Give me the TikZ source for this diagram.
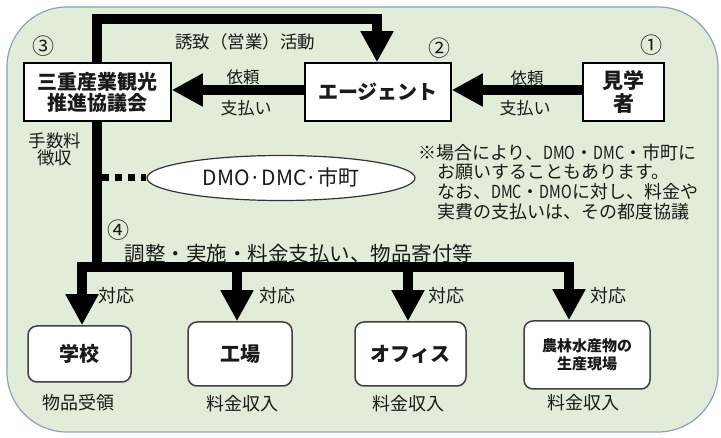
\documentclass[tikz,border=0pt]{standalone}
\usepackage{fontspec}
\setmainfont{Noto Sans CJK JP}
\usetikzlibrary{arrows.meta,shapes.geometric,calc}
\definecolor{bgfill}{HTML}{E2EDD9}
\definecolor{bgline}{HTML}{8CA3B4}
\definecolor{txt}{HTML}{1A1A1A}
\newcommand\myfs[2]{\fontsize{#1}{#2}\selectfont}
\pgfdeclarelayer{back}
\pgfdeclarelayer{mid}
\pgfsetlayers{back,mid,main}
\tikzset{
  topbox/.style={draw=black, line width=1.5pt, fill=white, inner sep=0pt, align=center, text=txt},
  botbox/.style={draw=black!75, line width=1.5pt, fill=white, rounded corners=9pt, inner sep=0pt, align=center, text=txt},
  flow/.style={line width=10pt, line join=miter, -{Triangle[width=31pt,length=31pt]}},
  bar/.style={line width=10pt},
  lbl/.style={inner sep=0pt, text=txt},
  numl/.style={inner sep=0pt, text=txt, font=\myfs{22}{22}},
  notel/.style={inner sep=0pt, text=txt, anchor=west, font=\myfs{18}{18}},
}
\begin{document}
\begin{tikzpicture}[x=1pt,y=-1pt]
\begin{pgfonlayer}{back}
\fill[white] (0,0) rectangle (721,438);
\draw[bgline, fill=bgfill, line width=1.2pt, rounded corners=60pt] (7,7) rectangle (718,432);
\end{pgfonlayer}
\useasboundingbox (0,0) rectangle (721,438);

% top boxes
\node[topbox, minimum width=147pt, minimum height=58pt, font=\myfs{20}{21}\bfseries] (kyo) at (97.5,92) {三重産業観光\\推進協議会};
\node[topbox, minimum width=146pt, minimum height=58pt, font=\myfs{20}{21}\bfseries] (agent) at (378,92) {エージェント};
\node[topbox, minimum width=81pt, minimum height=58pt, font=\myfs{21}{23}\bfseries] (visitor) at (623.5,92) {見学\\者};

% numbers
\node[numl] (n3) at (43,46) {③};
\node[numl] (n2) at (439,48) {②};
\node[numl] (n1) at (651,45) {①};
\node[numl] (n4) at (118,230) {④};

% top route
\coordinate (hj) at (97,267);
\coordinate (tl) at (97,19);
\coordinate (tr) at (377,19);
\begin{pgfonlayer}{mid}
\draw[flow] (hj) -- (tl) -- (tr) -- (tr |- agent.north);
\end{pgfonlayer}
\node[lbl, font=\myfs{17.5}{17.5}] (yuchi) at (245,42) {誘致（営業）活動};

% horizontal arrows
\draw[flow] ([yshift=2pt]agent.west) -- ([yshift=2pt]kyo.east);
\draw[flow] ([yshift=2pt]visitor.west) -- ([yshift=2pt]agent.east);
\node[lbl, font=\myfs{16.5}{16.5}] (irai1) at (243,77) {依頼};
\node[lbl, font=\myfs{17}{17}] (pay1) at (246,108) {支払い};
\node[lbl, font=\myfs{16.5}{16.5}] (irai2) at (527,78) {依頼};
\node[lbl, font=\myfs{17}{17}] (pay2) at (525,108) {支払い};

\node[lbl, font=\myfs{17.5}{17}, align=center] (fee) at (55,149) {手数料\\徴収};

% DMO ellipse
\node[ellipse, draw=black!80, line width=1.2pt, fill=white, minimum width=268pt, minimum height=45pt, inner sep=0pt, text=txt, font=\myfs{21}{21}] (dmo) at (281,178) {DMO·DMC·市町};
\coordinate (dl) at (102,178);
\draw[line width=7pt, dash pattern=on 7pt off 6pt] (dl) -- (dmo.west);

% note
\node[notel] (note1) at (418,153) {※場合により、\scalebox{0.8}[1]{DMO}・\scalebox{0.8}[1]{DMC}・市町に};
\node[notel] (note2) at (437,172.5) {お願いすることもあります。};
\node[notel] (note3) at (437,192) {なお、\scalebox{0.8}[1]{DMC}・\scalebox{0.8}[1]{DMO}に対し、料金や};
\node[notel] (note4) at (437,212) {実費の支払いは、その都度協議};

% bottom distribution
\node[lbl, font=\myfs{20.5}{20.5}] (adj) at (299,254) {調整・実施・料金支払い、物品寄付等};
\coordinate (bl) at (77,267);
\coordinate (br) at (574,267);
\draw[bar] (bl) -- (br);

\node[botbox, minimum width=103pt, minimum height=56pt, font=\myfs{20}{20}\bfseries] (school) at (79.5,354) {学校};
\node[botbox, minimum width=104pt, minimum height=64pt, font=\myfs{20}{20}\bfseries] (factory) at (240,354) {工場};
\node[botbox, minimum width=111pt, minimum height=64pt, font=\myfs{20}{20}\bfseries] (office) at (410.5,354) {オフィス};
\node[botbox, minimum width=126pt, minimum height=68pt, font=\myfs{15}{18}\bfseries] (farm) at (587,355) {農林水産物の\\生産現場};

\coordinate (b1) at (82,267);
\coordinate (b2) at (237,267);
\coordinate (b3) at (408,267);
\coordinate (b4) at (569,267);
\draw[flow] (b1) -- (b1 |- school.north);
\draw[flow] (b2) -- (b2 |- factory.north);
\draw[flow] (b3) -- (b3 |- office.north);
\draw[flow] (b4) -- (b4 |- farm.north);

\node[lbl, font=\myfs{18}{18}] (t1) at (116,296) {対応};
\node[lbl, font=\myfs{18}{18}] (t2) at (277,296) {対応};
\node[lbl, font=\myfs{18}{18}] (t3) at (446,296) {対応};
\node[lbl, font=\myfs{18}{18}] (t4) at (608,296) {対応};

\node[lbl, font=\myfs{18}{18}] (r1) at (78,403) {物品受領};
\node[lbl, font=\myfs{18}{18}] (r2) at (242,404) {料金収入};
\node[lbl, font=\myfs{18}{18}] (r3) at (408,404) {料金収入};
\node[lbl, font=\myfs{18}{18}] (r4) at (583,403) {料金収入};
\end{tikzpicture}
\end{document}
